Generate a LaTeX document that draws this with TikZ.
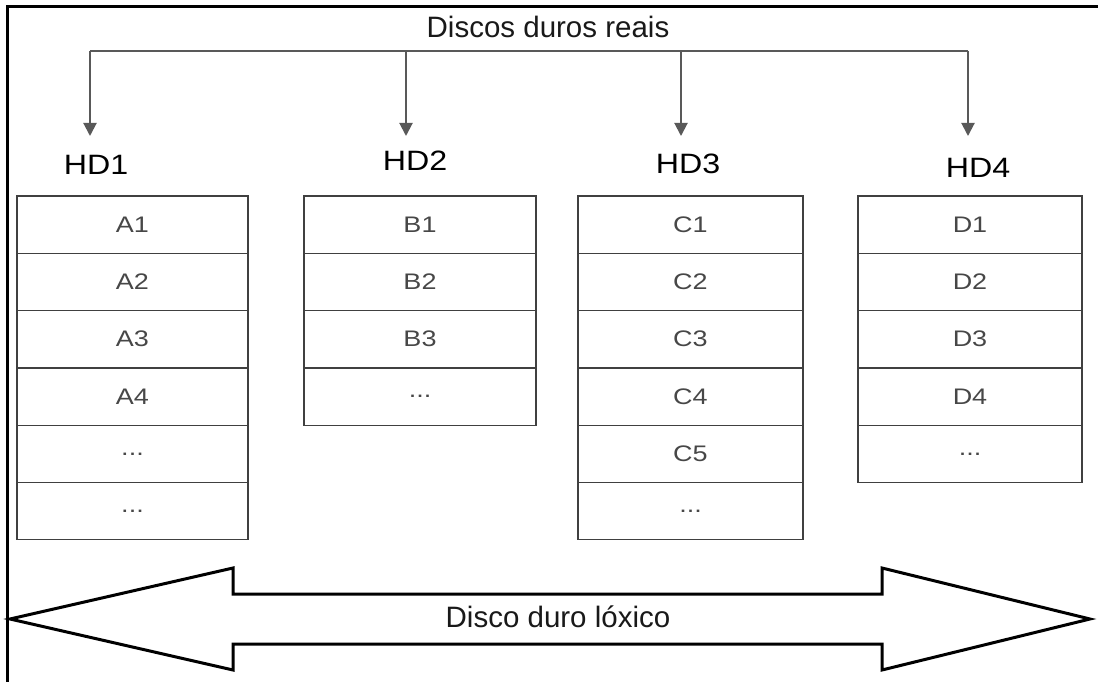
\documentclass[tikz,border=0pt]{standalone}
\usepackage{fontspec}
\setmainfont{Liberation Sans}
\newfontfamily\widefont[FakeStretch=1.15]{Liberation Sans}
\newfontfamily\cellfont[FakeStretch=1.2]{Liberation Sans}
\usetikzlibrary{arrows.meta}
\newcommand\myellip{...}
\begin{document}
\begin{tikzpicture}[x=1pt,y=-1pt,
  cell/.style={draw=black!75,line width=1.3pt,minimum height=57.3pt,inner sep=0pt,
    font=\cellfont\fontsize{22.5}{22.5}\selectfont,text=black!72},
  hdlabel/.style={inner sep=0pt,font=\widefont\fontsize{28}{28}\selectfont,text=black},
  title/.style={inner sep=0pt,font=\fontsize{29.5}{29.5}\selectfont,text=black!90},
  conn/.style={draw=black!65,line width=2pt},
  arr/.style={conn,-{Triangle[width=13pt,length=13pt]}},
  frame/.style={draw=black,line width=3pt},
  bigarrow/.style={draw=black,line width=3pt,line join=miter,fill=white}]
\useasboundingbox (0,0) rectangle (1098,682);
% frame
\draw[frame] (7.5,682) -- (7.5,7) -- (1098,7);
% title and connectors
\node[title] (top) at (548,27) {Discos duros reais};
\coordinate (j1) at (90,51);
\coordinate (j2) at (406,51);
\coordinate (j3) at (681,51);
\coordinate (j4) at (968,51);
\coordinate (t1) at (90,136);
\coordinate (t2) at (406,136);
\coordinate (t3) at (681,136);
\coordinate (t4) at (968,136);
\draw[conn] (j1) -- (j4);
\draw[arr] (j1) -- (t1);
\draw[arr] (j2) -- (t2);
\draw[arr] (j3) -- (t3);
\draw[arr] (j4) -- (t4);
% HD labels
\node[hdlabel] (hd1) at (96,165) {HD1};
\node[hdlabel] (hd2) at (415,161) {HD2};
\node[hdlabel] (hd3) at (688,164) {HD3};
\node[hdlabel] (hd4) at (978,168) {HD4};
% columns
\foreach \lab [count=\i] in {A1,A2,A3,A4,\myellip,\myellip}
  \node[cell,minimum width=231pt] (a\i) at (132.5,{196+57.3*(\i-0.5)}) {\lab};
\foreach \lab [count=\i] in {B1,B2,B3,\myellip}
  \node[cell,minimum width=232pt] (b\i) at (420,{196+57.3*(\i-0.5)}) {\lab};
\foreach \lab [count=\i] in {C1,C2,C3,C4,C5,\myellip}
  \node[cell,minimum width=225pt] (c\i) at (690.5,{196+57.3*(\i-0.5)}) {\lab};
\foreach \lab [count=\i] in {D1,D2,D3,D4,\myellip}
  \node[cell,minimum width=224pt] (d\i) at (970,{196+57.3*(\i-0.5)}) {\lab};
% big double arrow
\draw[bigarrow] (10,619) -- (233,568) -- (233,594) -- (882,594) -- (882,568)
  -- (1090,619) -- (882,670) -- (882,644) -- (233,644) -- (233,670) -- cycle;
\node[title] (logic) at (558,617) {Disco duro lóxico};
\end{tikzpicture}
\end{document}
